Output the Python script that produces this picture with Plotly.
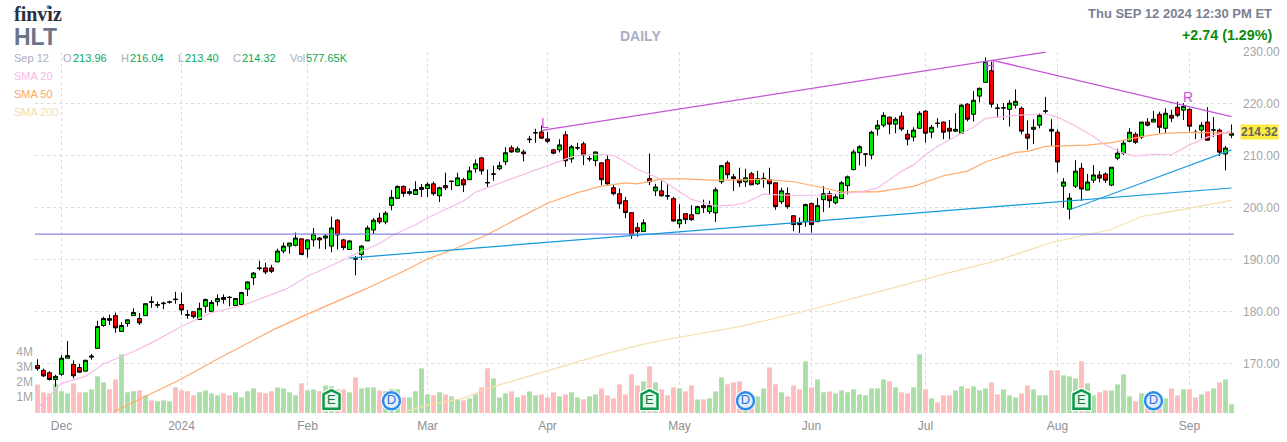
import plotly.graph_objects as go

W, H = 1287, 442
L_M, R_M, T_M, B_M = 35, 53, 52, 29

opens = [169.6,168.65,168.2,166.9,167.9,171.0,169.8,169.2,168.5,171.2,172.9,177.3,178.65,179.2,176.15,177.7,179.2,178.65,179.2,181.9,
181.2,181.5,181.75,182.4,181.35,179.4,179.95,178.45,181.0,180.0,181.9,182.7,182.75,181.15,181.35,184.3,186.5,188.4,188.4,188.4,
189.55,191.65,192.6,192.75,194.0,192.05,193.8,194.15,194.15,192.6,197.6,193.8,191.95,190.15,191.0,193.6,195.7,198.0,197.25,200.45,
201.8,204.1,202.75,202.55,203.5,203.7,204.6,202.3,204.25,205.05,204.25,205.4,205.4,207.5,209.6,204.85,206.45,207.5,208.85,211.55,
210.75,210.75,213.1,214.4,214.6,213.25,211.15,211.15,214.05,209.4,211.5,212.3,209.4,209.05,208.65,209.25,203.85,202.7,201.35,199.05,
196.15,195.4,205.6,203.25,203.25,202.3,201.75,196.9,198.85,198.65,198.85,200.4,199.25,199.0,205.0,208.65,205.95,205.4,205.0,206.55,
204.6,205.6,205.4,204.8,201.15,202.7,198.45,197.1,197.3,200.8,197.3,201.55,202.7,200.95,201.75,204.25,207.35,210.6,210.3,210.15,
215.15,215.9,217.45,216.1,217.65,214.15,213.6,215.3,218.6,214.55,216.3,216.5,215.3,214.75,214.35,219.95,218.0,221.5,224.15,226.4,
219.2,219.2,218.95,219.75,219.15,214.15,215.1,215.9,218.6,215.1,214.55,204.15,199.7,204.15,207.6,203.4,205.3,206.3,206.5,204.35,
209.55,210.5,212.8,214.15,213.6,216.5,216.5,218.0,215.3,217.8,219.35,218.8,218.95,214.55,214.95,216.5,214.95,214.95,210.35,213.96]
highs = [170.8,169.0,168.5,167.8,171.6,174.3,170.6,169.9,170.7,171.8,178.2,179.0,179.4,179.8,177.9,178.4,180.6,179.7,181.6,182.9,
181.9,181.9,182.1,183.8,183.65,180.3,179.95,181.7,182.5,182.2,183.3,183.3,183.0,182.6,183.8,185.8,187.6,189.8,189.4,189.0,
192.1,193.3,193.2,195.2,194.0,193.8,196.1,194.35,194.85,198.3,197.8,194.0,193.8,190.7,192.8,196.55,198.0,199.0,199.35,203.4,
204.3,204.3,203.7,205.1,204.55,204.9,205.05,204.05,206.75,205.2,206.75,205.75,207.9,209.3,209.8,207.35,208.1,208.85,211.65,212.0,
211.8,211.2,213.8,215.2,215.85,214.6,211.35,213.2,214.75,212.1,212.5,212.7,210.0,210.75,208.8,210.2,204.5,203.7,202.1,199.1,
197.1,197.75,210.45,204.6,205.2,204.5,202.1,200.65,198.85,200.5,200.4,201.55,201.35,203.9,208.25,209.05,206.5,207.7,207.5,206.9,
207.1,206.75,207.7,204.8,203.85,203.9,198.45,198.1,200.8,201.0,201.9,204.15,203.2,202.7,205.15,206.2,211.2,212.05,210.5,214.85,
216.9,218.4,217.55,217.45,218.4,215.0,215.5,218.6,218.8,215.95,217.25,216.6,216.9,218.2,219.95,220.15,222.45,223.15,229.0,228.15,
220.0,220.15,220.75,222.8,219.5,216.85,217.05,218.2,221.35,217.05,215.1,205.7,202.8,209.15,208.6,206.5,208.2,207.05,206.8,207.8,
211.35,213.1,215.3,214.55,216.5,217.25,218.65,218.5,219.15,218.85,220.4,220.15,219.15,215.0,216.5,219.35,217.45,215.25,211.9,216.04]
lows = [168.6,167.4,166.7,165.5,167.6,171.0,167.1,168.2,168.5,170.7,172.9,177.05,177.4,175.9,176.15,177.05,179.2,177.4,179.2,180.7,
180.7,180.45,181.5,181.5,179.35,178.6,178.65,178.45,179.75,180.0,181.1,181.5,181.0,181.1,181.3,183.0,185.1,187.9,187.2,187.4,
189.55,191.2,191.15,192.55,190.85,190.4,192.5,192.1,192.0,191.4,191.95,191.85,191.85,186.95,189.9,193.6,194.9,196.85,196.8,199.5,
201.8,202.1,202.35,202.55,202.1,202.1,202.3,201.1,203.4,203.4,204.25,203.0,205.4,206.75,206.35,203.85,205.2,207.25,208.2,210.6,
210.65,208.9,212.45,212.5,213.25,212.45,210.3,210.65,207.9,208.65,211.1,208.2,208.9,208.0,204.35,204.4,202.35,199.8,198.0,194.0,
194.4,195.4,204.35,202.25,202.1,201.55,197.3,196.1,196.85,197.45,198.85,199.0,198.8,197.25,204.6,205.6,203.2,204.0,204.0,204.4,
204.4,203.85,202.55,199.6,200.7,199.8,195.45,195.15,196.35,195.2,197.3,199.15,200.0,200.65,201.75,202.55,207.2,208.15,207.95,209.3,
213.9,215.5,214.15,214.35,214.75,212.0,212.75,215.3,212.55,213.4,215.45,213.2,213.2,214.6,214.35,216.65,216.6,220.3,224.15,219.3,
217.45,216.9,215.65,219.1,214.15,211.15,212.25,215.3,218.05,211.9,206.8,200.0,197.75,203.8,201.3,203.4,204.75,204.9,204.75,204.15,
209.15,210.15,212.6,212.25,213.2,215.65,216.5,214.35,214.35,216.5,217.45,216.9,214.7,213.2,213.4,212.9,213.6,209.95,207.2,213.40]
closes = [169.0,167.6,166.9,167.5,171.0,171.5,167.6,168.3,170.6,171.4,177.1,178.65,178.3,176.85,177.3,178.4,179.8,177.8,181.5,181.8,
181.3,181.6,181.85,182.3,180.3,179.3,179.0,180.6,182.3,181.75,182.5,182.3,182.7,182.5,183.65,185.7,187.4,188.3,187.6,187.75,
191.65,192.6,193.2,194.15,191.0,193.8,194.95,193.8,194.55,196.1,194.75,192.3,193.6,190.1,192.6,196.1,197.6,197.25,198.95,202.0,
204.1,202.75,203.1,203.5,203.9,204.5,202.7,203.85,203.85,205.1,205.75,204.4,207.1,208.45,207.1,204.8,206.5,208.1,210.6,210.75,
211.35,210.4,213.2,214.45,213.4,212.8,210.5,212.1,209.05,211.75,211.55,210.15,209.45,210.75,205.4,204.6,202.7,200.75,199.05,194.7,
195.4,197.1,205.0,204.0,202.3,202.25,197.45,197.7,197.7,197.7,200.2,200.0,200.4,203.45,208.1,206.35,205.6,204.8,205.75,204.4,
205.6,205.65,204.6,200.2,203.25,200.2,196.75,196.75,200.6,196.75,200.4,202.7,201.35,202.1,204.8,205.95,210.75,211.75,210.35,214.55,
215.9,217.8,216.1,217.05,215.15,213.2,214.95,218.2,214.35,215.5,216.25,214.55,214.75,215.1,219.75,217.05,220.7,223.0,228.15,219.95,
219.15,219.25,220.15,220.5,214.75,213.4,215.5,217.8,218.65,214.75,208.8,204.95,201.85,207.05,203.6,204.95,206.3,205.7,205.3,207.8,
210.5,212.45,214.55,212.6,216.5,215.9,217.05,215.5,218.2,217.25,217.8,219.55,215.7,214.5,215.9,213.0,215.0,210.7,211.5,214.32]
volumes_m = [1.9,1.38,1.31,1.95,1.45,1.31,1.98,1.38,1.38,1.58,2.44,2.04,1.58,2.24,3.91,1.38,1.45,1.51,1.18,0.84,
0.78,0.84,0.78,1.71,1.51,1.45,1.18,1.38,1.51,1.31,1.18,1.31,1.18,1.38,1.04,1.45,1.64,1.38,1.31,1.45,
1.71,1.64,1.38,1.18,1.98,1.51,1.58,1.45,1.84,1.78,1.58,1.58,1.38,2.38,1.64,1.71,1.71,1.51,1.45,1.6,
1.58,1.04,1.04,1.45,2.98,1.24,1.18,1.38,1.24,1.11,0.91,0.84,0.98,1.24,1.71,2.98,2.31,1.04,1.31,1.44,
1.04,1.18,1.44,1.18,1.24,1.04,1.38,1.11,1.24,1.38,1.04,0.91,1.11,1.24,1.64,1.18,0.98,1.91,1.24,2.58,
1.84,2.11,3.11,2.04,1.58,1.18,1.71,1.64,1.44,1.84,0.91,0.91,0.98,1.44,2.38,1.91,2.04,2.11,1.11,0.6,
1.11,1.64,3.04,1.91,1.38,1.11,1.84,1.58,3.44,1.71,2.24,1.38,1.44,1.31,1.51,1.38,1.58,1.24,1.18,1.64,
1.64,2.24,2.11,1.71,1.38,1.31,1.71,3.91,1.58,0.98,0.71,1.18,1.18,1.51,1.78,1.64,1.78,1.51,1.64,2.04,
1.24,1.58,1.18,1.04,1.31,1.84,1.58,1.18,1.18,2.84,2.84,2.51,2.44,2.31,3.44,1.98,1.18,1.38,1.51,1.51,
1.91,2.58,1.11,0.78,1.31,1.2,1.0,1.1,0.98,1.64,1.18,1.58,1.58,1.04,1.24,1.44,1.64,2.04,2.24,0.58]

month_ticks = [4, 24, 45, 65, 85, 107, 129, 148, 170, 192]
month_labels = ["Dec", "2024", "Feb", "Mar", "Apr", "May", "Jun", "Jul", "Aug", "Sep"]
price_ticks = [170, 180, 190, 200, 210, 220, 230]
vol_ticks = [1.1, 2.1, 3.1, 4.1]
vol_labels = ["1M", "2M", "3M", "4M"]

sma20_x = [0,4,8,11,16,19.3,24,29,34,37.7,41.5,45,49,53,57,59,63,65.4,71,73,75,79,83,85,89,91,94,96,98,100,104,106,109,113,116,118,121,126,131,137,140,144,146,148,150,154,156,158,160,163,168,170,173,176,178,181,183,186,189,192,195,199]
sma20_y = [161.35,166.15,167.5,169.9,172.3,174.15,177.1,179.8,181.1,182.7,184.35,186.8,188.85,191.1,193.1,194.6,196.7,198.25,201.3,203,203.85,205.6,207.35,208.15,209.8,210.2,210.25,210.05,208.85,207.4,205.45,203.85,201.6,200.3,200.5,200.95,202.6,202.35,202.45,203,203.8,207,208.25,210.2,211.8,214.35,215.5,217.2,217.45,217.8,218.1,217.45,215.75,213.7,212.1,210.5,209.95,210.3,210.2,212.1,213.6,214.85]
sma50_x = [12.7,17.7,24,30,34,39.5,45,49.2,54.7,61,65,69.6,75,80,85,90,94,98,100,104,108,113,121,126,131,134,137,140,146,151,155,158,163,165,168,175,179,184,188,193,199]
sma50_y = [160.7,163.45,167,170.85,173.3,176.6,179.5,181.6,184.35,187.75,190.1,192.1,194.85,197.9,200.85,202.9,204.15,204.8,204.6,205.55,205.55,205.25,205.45,205,203.85,203,203.1,203.05,204.1,206.15,207.05,208.8,210.65,210.85,211.8,212.05,212.55,213.7,214.35,214.5,214.35]
sma200_x = [61,65.4,71,75,79,85,94,101,105.4,117,127,144,152,160,169,178.9,184,190,199]
sma200_y = [160.7,162.05,163.25,165.2,166.55,168.6,171.65,173.7,174.7,177.1,179.8,185,187.5,189.85,193.3,195.8,198.3,199.5,201.4]

support_x = [52, 199]
support_y = [190.3, 203.8]
channel_x = [172, 199]
channel_y = [199.6, 211.15]
resist_up_x = [84, 168.1]
resist_up_y = [214.9, 230]
resist_down_x = [159, 199]
resist_down_y = [228.45, 217.55]
flat_x = [-0.42, 199.4]
flat_y = [194.9, 194.9]

earn_x = [49, 102, 174]
earn_y = [163.0, 163.0, 163.0]
div_x = [59, 118, 186]
div_y = [162.8, 162.8, 162.8]

x_idx = list(range(len(opens)))
GREEN = "#00e800"
RED = "#f40000"
vol_colors = ["#a9dfa5" if c >= o else "#ffbcbc" for o, c in zip(opens, closes)]

fig = go.Figure()
fig.add_trace(go.Bar(x=x_idx, y=volumes_m, width=0.8, marker=dict(color=vol_colors, line=dict(width=0)), yaxis="y", hoverinfo="skip"))

for xs, ys, col, w in [
    (sma200_x, sma200_y, "#f5dfae", 1.2),
    (sma50_x, sma50_y, "#ffaa6c", 1.2),
    (sma20_x, sma20_y, "#f6bce8", 1.2),
    (flat_x, flat_y, "#8a88e0", 1.1),
    (support_x, support_y, "#129bdc", 1.2),
    (channel_x, channel_y, "#2a9fe0", 1.2),
    (resist_up_x, resist_up_y, "#c455d6", 1.3),
    (resist_down_x, resist_down_y, "#c455d6", 1.3),
]:
    fig.add_trace(go.Scatter(x=xs, y=ys, mode="lines", line=dict(color=col, width=w), yaxis="y2", hoverinfo="skip", cliponaxis=True))

fig.add_trace(go.Candlestick(
    x=x_idx, open=opens, high=highs, low=lows, close=closes, yaxis="y2",
    increasing=dict(fillcolor=GREEN, line=dict(color="#000000", width=1)),
    decreasing=dict(fillcolor=RED, line=dict(color="#000000", width=1)),
    whiskerwidth=0, hoverinfo="skip",
))

# dividend badges
fig.add_trace(go.Scatter(x=div_x, y=div_y, mode="markers", yaxis="y2", hoverinfo="skip",
                         marker=dict(symbol="circle", size=21, color="#ffffff")))
fig.add_trace(go.Scatter(x=div_x, y=div_y, mode="markers+text", yaxis="y2", hoverinfo="skip",
                         text=["D"] * len(div_x), textposition="middle center",
                         textfont=dict(family="Liberation Sans", size=13, color="#2f6fd0"),
                         marker=dict(symbol="circle", size=17, color="#e3eefc", line=dict(color="#2b8be8", width=2.5))))

HOUSE = "M -8,-9 L 8,-9 L 8,5.5 L 0,9.5 L -8,5.5 Z"
shapes = [dict(type="circle", xref="paper", yref="paper", layer="above",
               x0=(46.5 - L_M) / (W - L_M - R_M), x1=(50.5 - L_M) / (W - L_M - R_M),
               y0=(H - B_M - 9) / (H - T_M - B_M), y1=(H - B_M - 5) / (H - T_M - B_M),
               fillcolor="#4a9ff0", line=dict(width=0))]
for ex, ey in zip(earn_x, earn_y):
    for col, lw, fill in [("#ffffff", 5, "#ffffff"), ("#0a9c4c", 2.5, "#e8f5ec")]:
        shapes.append(dict(type="path", xref="x", yref="y2", xsizemode="pixel", ysizemode="pixel",
                           xanchor=ex, yanchor=ey, path=HOUSE, layer="above",
                           fillcolor=fill, line=dict(color=col, width=lw)))


def px(x):
    return (x - L_M) / (W - L_M - R_M)


def py(y):
    return (H - B_M - y) / (H - T_M - B_M)


def label(text, x, y, size=11, color="#a9adbf", anchor="left", bold=False, family="Liberation Sans", **kw):
    t = f"<b>{text}</b>" if bold else text
    return dict(text=t, x=px(x), y=py(y), xref="paper", yref="paper", xanchor=anchor, yanchor="middle",
                showarrow=False, font=dict(family=family, size=size, color=color), borderpad=0, **kw)


VAL = "#0aa85a"
annotations = [
    label("finviz", 12.5, 14, 20, "#2b3040", bold=True, family="Liberation Serif"),
    label("HLT", 13, 37, 23, "#6b7489", bold=True),
    label("DAILY", 640, 36, 14, "#a8aec4", anchor="center", bold=True),
    label("Thu SEP 12 2024 12:30 PM ET", 1273.5, 14, 13, "#7a8092", anchor="right", bold=True),
    label("+2.74 (1.29%)", 1273.5, 35, 14.3, "#0a8a0a", anchor="right", bold=True),
    label("Sep 12", 13, 58),
    label("O", 62, 58), label("213.96", 72, 58, color=VAL),
    label("H", 120, 58), label("216.04", 129, 58, color=VAL),
    label("L", 177, 58), label("213.40", 184, 58, color=VAL),
    label("C", 232, 58), label("214.32", 241, 58, color=VAL),
    label("Vol", 289, 58), label("577.65K", 305, 58, color=VAL),
    label("SMA 20", 13, 76, color="#f8b8e8"),
    label("SMA 50", 13, 94, color="#ffa560"),
    label("SMA 200", 13, 112, color="#f5dca8"),
    label("L", 545, 123, 14, "#c455d6", anchor="center"),
    label("H", 990, 66, 14, "#c455d6", anchor="center"),
    label("R", 1188, 97, 14, "#c455d6", anchor="center"),
    label("214.32", 1259, 132, 12, "#666666", anchor="center", bold=True, bgcolor="#ffeb3b"),
]
for ex, ey in zip(earn_x, earn_y):
    annotations.append(dict(text="E", x=ex, y=ey, xref="x", yref="y2", showarrow=False, yshift=0,
                            font=dict(family="Liberation Sans", size=13, color="#0b7d45")))

GRID = "#dcdcdc"
fig.update_layout(
    width=W, height=H, autosize=False,
    margin=dict(l=L_M, r=R_M, t=T_M, b=B_M, pad=0),
    paper_bgcolor="#ffffff", plot_bgcolor="#ffffff",
    showlegend=False, hovermode=False, barmode="overlay", boxgap=1 / 3, boxgroupgap=0,
    font=dict(family="Liberation Sans", size=12, color="#9a9a9a"),
    xaxis=dict(range=[-0.41667, 199.41667], tickmode="array", tickvals=month_ticks, ticktext=month_labels,
               showgrid=True, gridcolor=GRID, griddash="3px,3px", gridwidth=1, zeroline=False, automargin=False,
               ticks="", showline=False, rangeslider=dict(visible=False),
               tickfont=dict(size=12, color="#8f8f8f"), ticklabelstandoff=4),
    yaxis=dict(range=[0, 361 / 15], side="left", tickmode="array", tickvals=vol_ticks, ticktext=vol_labels,
               showgrid=False, zeroline=False, ticks="", showline=False, automargin=False,
               tickfont=dict(size=12, color="#a5a5a5"), ticklabelstandoff=1),
    yaxis2=dict(range=[230 - 361 / 5.19, 230], side="right", overlaying="y", tickmode="array", tickvals=price_ticks,
                tickformat=".2f", showgrid=True, gridcolor=GRID, griddash="3px,3px", gridwidth=1, zeroline=False,
                ticks="", showline=False, automargin=False,
                tickfont=dict(size=12, color="#a5a5a5"), ticklabelstandoff=8),
    shapes=shapes, annotations=annotations,
)

fig.write_html("out.html", post_script="document.body.style.margin='0';document.body.style.overflow='hidden';",
               config=dict(displayModeBar=False))
